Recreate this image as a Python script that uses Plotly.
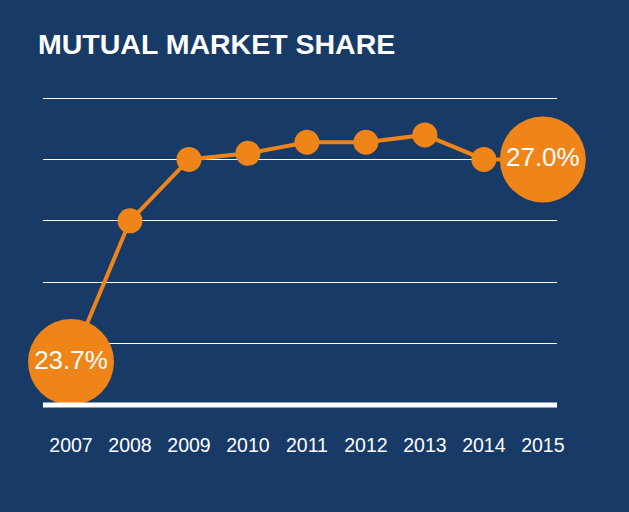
import plotly.graph_objects as go

years = [2007, 2008, 2009, 2010, 2011, 2012, 2013, 2014, 2015]
share = [23.7, 26.0, 27.0, 27.1, 27.28, 27.28, 27.4, 27.0, 27.0]
labels = ["23.7%", "", "", "", "", "", "", "", "27.0%"]
tick_labels = [str(y) for y in years]

BG = "#183A67"
ORANGE = "#EF8519"

sizes = [86 if t else 25 for t in labels]

fig = go.Figure()
fig.add_trace(go.Scatter(
    x=years, y=share, mode="lines+markers+text",
    line=dict(color=ORANGE, width=4),
    marker=dict(color=ORANGE, size=sizes, line=dict(width=0), opacity=1),
    text=labels, textposition="middle center",
    textfont=dict(family="Liberation Sans, Arial, sans-serif", size=26, color="white"),
    cliponaxis=False, hoverinfo="skip", showlegend=False,
))

fig.add_shape(type="line", xref="paper", yref="y", x0=0, x1=1, y0=23, y1=23,
              line=dict(color="white", width=5), layer="above")

fig.update_layout(
    width=629, height=512,
    paper_bgcolor=BG, plot_bgcolor=BG,
    margin=dict(l=43, r=72, t=95, b=103),
    title=dict(text="<b>MUTUAL MARKET SHARE</b>", x=38/629, xanchor="left", xref="container",
               y=1-44.5/512, yanchor="middle", yref="container",
               font=dict(family="Liberation Sans, Arial, sans-serif", size=28.5, color="white")),
    xaxis=dict(range=[2006.525, 2015.24], tickmode="array", tickvals=years, ticktext=tick_labels,
               showgrid=False, zeroline=False, showline=False,
               ticks="outside", ticklen=19, tickcolor="rgba(0,0,0,0)",
               tickfont=dict(family="Liberation Sans, Arial, sans-serif", size=19.5, color="white")),
    yaxis=dict(range=[22.935, 28.05], tickvals=[24, 25, 26, 27, 28], showticklabels=False,
               showgrid=True, gridcolor="white", gridwidth=1, zeroline=False, showline=False),
)

fig.write_html("out.html")
